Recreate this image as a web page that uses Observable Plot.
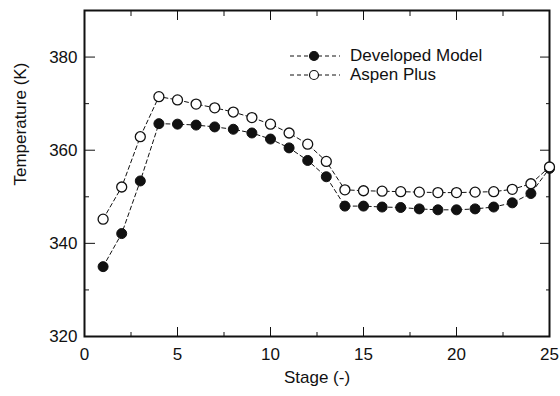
<!DOCTYPE html>
<html>
<head>
<meta charset="utf-8">
<script src="https://cdn.jsdelivr.net/npm/d3@7"></script>
<script src="https://cdn.jsdelivr.net/npm/@observablehq/plot@0.6"></script>
<style>
  html, body { margin: 0; padding: 0; background: #fff; }
  #wrap { position: relative; width: 560px; height: 396px; font-family: "Liberation Sans", Arial, sans-serif; }
  #legend { position: absolute; left: 288px; top: 46px; font-size: 17px; color: #111; }
  #legend .row { display: flex; align-items: center; height: 19px; }
  #legend svg { margin-right: 8px; }
</style>
</head>
<body>
<div id="wrap"><div id="legend"></div></div>
<script>
const stages = [1,2,3,4,5,6,7,8,9,10,11,12,13,14,15,16,17,18,19,20,21,22,23,24,25];
const developed = [335.0,342.1,353.4,365.7,365.6,365.4,365.0,364.5,363.7,362.4,360.5,357.8,354.3,348.0,348.0,347.8,347.7,347.4,347.2,347.2,347.4,347.8,348.7,350.7,356.1];
const aspen = [345.2,352.1,362.9,371.5,370.8,369.9,369.1,368.2,367.0,365.6,363.7,361.3,357.6,351.5,351.3,351.2,351.1,351.0,350.9,350.9,351.0,351.1,351.6,352.8,356.4];
const seriesNames = ["Developed Model", "Aspen Plus"];
const xMajor = [0,5,10,15,20,25];
const xMinor = [2.5,7.5,12.5,17.5,22.5];
const yMajor = [320,340,360,380];
const yMinor = [330,350,370];
const xLabel = "Stage (-)";
const yLabel = "Temperature (K)";

const devData = stages.map((s, i) => ({stage: s, t: developed[i]}));
const aspData = stages.map((s, i) => ({stage: s, t: aspen[i]}));
const blank = () => "";
const font = {fontSize: 17, fontFamily: "Liberation Sans, Arial, sans-serif"};

const chart = Plot.plot({
  width: 560,
  height: 396,
  marginLeft: 84,
  marginRight: 11,
  marginTop: 10,
  marginBottom: 60,
  style: {fontFamily: "Liberation Sans, Arial, sans-serif", fontSize: "17px", color: "#111", background: "#fff"},
  x: {domain: [0, 25]},
  y: {domain: [320, 390]},
  marks: [
    // bottom axis
    Plot.axisX(xMajor, {anchor: "bottom", tickSize: -9, tickPadding: 20, label: null, fontSize: 17}),
    Plot.axisX(xMinor, {anchor: "bottom", tickSize: -4, tickFormat: blank, label: null}),
    // top axis
    Plot.axisX(xMajor, {anchor: "top", tickSize: -9, tickFormat: blank, label: null}),
    Plot.axisX(xMinor, {anchor: "top", tickSize: -5, tickFormat: blank, label: null}),
    // left axis
    Plot.axisY(yMajor, {anchor: "left", tickSize: -11, tickPadding: 18, label: null, fontSize: 17}),
    Plot.axisY(yMinor, {anchor: "left", tickSize: -5, tickFormat: blank, label: null}),
    // right axis
    Plot.axisY(yMajor, {anchor: "right", tickSize: -10, tickFormat: blank, label: null}),
    Plot.axisY(yMinor, {anchor: "right", tickSize: -4, tickFormat: blank, label: null}),
    Plot.frame({stroke: "#111", strokeWidth: 2}),
    Plot.line(aspData, {x: "stage", y: "t", stroke: "#111", strokeWidth: 1, strokeDasharray: "4,3"}),
    Plot.line(devData, {x: "stage", y: "t", stroke: "#111", strokeWidth: 1, strokeDasharray: "4,3"}),
    Plot.dot(devData, {x: "stage", y: "t", r: 5, fill: "#111", stroke: "#111", strokeWidth: 1}),
    Plot.dot(aspData, {x: "stage", y: "t", r: 5, fill: "#fff", stroke: "#111", strokeWidth: 1.3}),
    Plot.text([xLabel], {frameAnchor: "bottom", dy: 46, text: d => d, ...font, fill: "#111"}),
    Plot.text([yLabel], {frameAnchor: "left", dx: -64, dy: 12, rotate: -90, text: d => d, ...font, fill: "#111"})
  ]
});
const wrap = document.getElementById("wrap");
wrap.insertBefore(chart, wrap.firstChild);

const legend = document.getElementById("legend");
seriesNames.forEach((name, i) => {
  const row = document.createElement("div");
  row.className = "row";
  const fill = i === 0 ? "#111" : "#fff";
  row.innerHTML = `<svg width="54" height="14"><line x1="2" x2="52" y1="7" y2="7" stroke="#111" stroke-width="1" stroke-dasharray="4,3"/><circle cx="26" cy="7" r="4.5" fill="${fill}" stroke="#111" stroke-width="1.2"/></svg><span>${name}</span>`;
  legend.appendChild(row);
});
</script>
</body>
</html>
